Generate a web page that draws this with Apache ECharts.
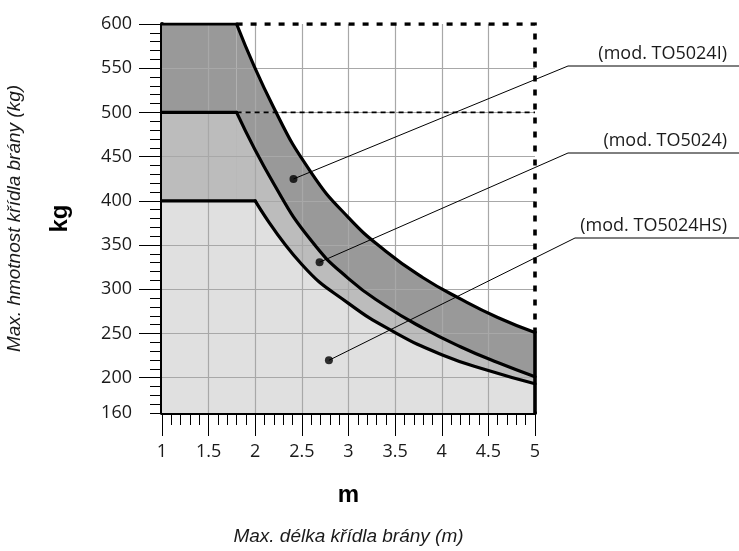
<!DOCTYPE html>
<html><head><meta charset="utf-8">
<script src="https://cdn.jsdelivr.net/npm/echarts@6/dist/echarts.min.js"></script>
<style>html,body{margin:0;padding:0;background:#fff}#c{width:739px;height:551px}</style>
</head><body><div id="c"></div>
<script>
// ---- data ----
const xTickLabels = [1, 1.5, 2, 2.5, 3, 3.5, 4, 4.5, 5];
const yTickLabels = [160, 200, 250, 300, 350, 400, 450, 500, 550, 600];
const yMajorTicks = [200, 250, 300, 350, 400, 450, 500, 550, 600];
const yGridValues = [200, 250, 300, 350, 400, 450, 500, 550];
const xGridValues = [1.5, 2, 2.5, 3, 3.5, 4, 4.5];

// TO5024I  (upper band)
const flatX_I = [1, 1.8];
const flatY_I = [600, 600];
const curveX_I = [1.8, 2.2, 2.6, 3.0, 3.4, 3.8, 4.2, 4.6, 5.0];
const curveY_I = [600, 505, 432, 381, 343, 313, 289, 268, 251];
// TO5024 (middle band)
const flatX_M = [1, 1.8];
const flatY_M = [500, 500];
const curveX_M = [1.8, 2.2, 2.6, 3.0, 3.4, 3.8, 4.2, 4.6, 5.0];
const curveY_M = [500, 419, 355, 312, 281, 256, 235, 217, 201];
// TO5024HS (lower band)
const flatX_L = [1, 2.0];
const flatY_L = [400, 400];
const curveX_L = [2.0, 2.5, 3.0, 3.5, 4.0, 4.5, 5.0];
const curveY_L = [400, 328, 284, 251, 226, 208, 193];

// limit frame extensions
const frameTopX = [1.8, 5, 5];
const frameTopY = [600, 600, 251];
const frameRightX = [5, 5];
const frameRightY = [251, 160];
const ext500X = [1.8, 5];
const ext500Y = [500, 500];

// labelled points
const modelNames = ['(mod. TO5024I)', '(mod. TO5024)', '(mod. TO5024HS)'];
const pointX = [2.41, 2.69, 2.79];
const pointY = [424.7, 330.6, 219.6];

const zip = (xs, ys) => xs.map((x, i) => [x, ys[i]]);

const FONT = 'Open Sans';
const TITLE_FONT = 'Liberation Sans';
const fillDark = '#999999', fillMid = '#bcbcbc', fillLight = '#e0e0e0';
const SMOOTH = 0.5;

function areaSeries(xs, ys, color, smooth) {
  return { type: 'line', data: zip(xs, ys), smooth: smooth ? SMOOTH : false,
    symbol: 'none', z: 1, silent: true, lineStyle: { width: 0 },
    areaStyle: { color: color, opacity: 1, origin: 'start' } };
}
function lineSeries(xs, ys, smooth, style) {
  return { type: 'line', data: zip(xs, ys), smooth: smooth ? SMOOTH : false,
    symbol: 'none', z: 4, silent: true,
    lineStyle: Object.assign({ color: '#000', width: 3.2, cap: 'round', join: 'round' }, style || {}) };
}

const chart = echarts.init(document.getElementById('c'), null, { renderer: 'canvas' });
const axisLabelStyle = { color: '#1a1a1a', fontSize: 18, fontFamily: FONT };

chart.setOption({
  animation: false,
  backgroundColor: '#fff',
  grid: { left: 162, right: 204, top: 24, bottom: 138, containLabel: false, outerBoundsMode: 'none' },
  xAxis: [
    { type: 'value', min: 1, max: 5, interval: 0.5, position: 'bottom',
      axisLine: { show: true, onZero: false, lineStyle: { color: '#000', width: 4 } },
      axisTick: { show: true, length: 23, lineStyle: { color: '#000', width: 1 } },
      minorTick: { show: true, splitNumber: 5, length: 12, lineStyle: { color: '#000', width: 1 } },
      splitLine: { show: false },
      axisLabel: Object.assign({ margin: 30, formatter: v => String(v) }, axisLabelStyle),
      name: 'm', nameLocation: 'middle', nameGap: 70,
      nameTextStyle: { fontSize: 24, fontWeight: 'bold', fontFamily: TITLE_FONT, color: '#000' } },
    { type: 'value', min: 1, max: 5, position: 'bottom', z: 2,
      axisLine: { show: false }, axisLabel: { show: false },
      axisTick: { show: false, customValues: xGridValues },
      splitLine: { show: true, lineStyle: { color: '#a8a8a8', width: 1.2 } },
      name: 'Max. délka křídla brány (m)', nameLocation: 'middle', nameGap: 114,
      nameTextStyle: { fontSize: 19, fontStyle: 'italic', fontFamily: TITLE_FONT, color: '#1a1a1a' } }
  ],
  yAxis: [
    { type: 'value', min: 160, max: 600, position: 'left',
      axisLine: { show: true, onZero: false, lineStyle: { color: '#000', width: 4 } },
      axisTick: { show: true, length: 23, customValues: yMajorTicks, lineStyle: { color: '#000', width: 1 } },
      splitLine: { show: false },
      axisLabel: Object.assign({ margin: 30, customValues: yTickLabels }, axisLabelStyle),
      name: 'kg', nameLocation: 'middle', nameGap: 90, nameRotate: 90,
      nameTextStyle: { fontSize: 24, fontWeight: 'bold', fontFamily: TITLE_FONT, color: '#000' } },
    { type: 'value', min: 160, max: 600, position: 'left',
      axisLine: { show: false }, axisLabel: { show: false },
      axisTick: { show: true, length: 12, customValues: Array.from({ length: 45 }, (_, i) => 160 + i * 10), lineStyle: { color: '#000', width: 1 } },
      splitLine: { show: false },
      name: 'Max. hmotnost křídla brány (kg)', nameLocation: 'middle', nameGap: 138, nameRotate: 90,
      nameTextStyle: { fontSize: 19, fontStyle: 'italic', fontFamily: TITLE_FONT, color: '#1a1a1a' } },
    { type: 'value', min: 160, max: 600, position: 'left', z: 2,
      axisLine: { show: false }, axisLabel: { show: false },
      axisTick: { show: false, customValues: yGridValues },
      splitLine: { show: true, lineStyle: { color: '#a8a8a8', width: 1.2 } } }
  ],
  series: [
    areaSeries(flatX_I, flatY_I, fillDark, false),
    areaSeries(curveX_I, curveY_I, fillDark, true),
    areaSeries(flatX_M, flatY_M, fillMid, false),
    areaSeries(curveX_M, curveY_M, fillMid, true),
    areaSeries(flatX_L, flatY_L, fillLight, false),
    areaSeries(curveX_L, curveY_L, fillLight, true),
    lineSeries(ext500X, ext500Y, false, { width: 1.6, type: [5, 4], cap: 'butt' }),
    lineSeries(frameTopX, frameTopY, false, { width: 3.6, type: [6, 8], cap: 'butt', join: 'miter' }),
    lineSeries(frameRightX, frameRightY, false, { width: 3.6 }),
    lineSeries(flatX_I, flatY_I, false),
    lineSeries(curveX_I, curveY_I, true),
    lineSeries(flatX_M, flatY_M, false),
    lineSeries(curveX_M, curveY_M, true),
    lineSeries(flatX_L, flatY_L, false),
    lineSeries(curveX_L, curveY_L, true),
    { type: 'scatter', data: zip(pointX, pointY), symbolSize: 8, z: 6, silent: true,
      itemStyle: { color: '#000' } }
  ]
});

// leader lines & model labels (annotation layout)
const labelAnchors = [[568, 66], [568, 153], [575, 238]];
const graphics = [];
modelNames.forEach((name, i) => {
  const p = chart.convertToPixel({ gridIndex: 0 }, [pointX[i], pointY[i]]);
  const a = labelAnchors[i];
  graphics.push({ type: 'polyline', z: 10, silent: true,
    shape: { points: [p, a, [739, a[1]]] },
    style: { stroke: '#000', lineWidth: 1, fill: null } });
  graphics.push({ type: 'text', z: 10, silent: true, x: 727, y: a[1] - 12,
    style: { text: name, fill: '#1a1a1a', font: '18px "' + FONT + '"', align: 'right', verticalAlign: 'middle' } });
});
chart.setOption({ graphic: graphics });
</script>
</body></html>
